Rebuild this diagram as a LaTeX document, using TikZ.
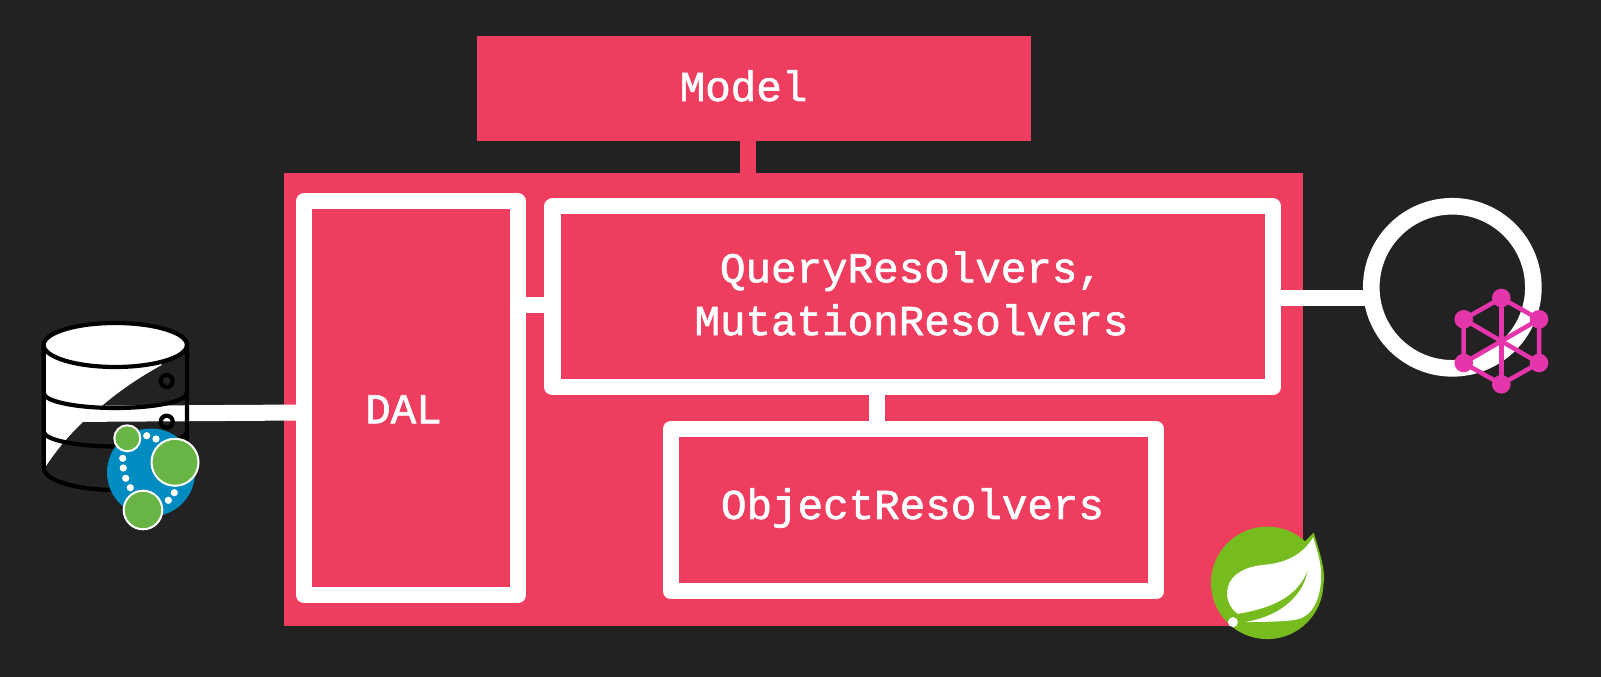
\documentclass[tikz,border=0pt]{standalone}
\usepackage{fontspec}
\usepackage{xcolor}
\usetikzlibrary{arrows.meta, positioning}
\newfontfamily\codefont[FakeBold=1.5]{Liberation Mono}
\definecolor{bgdark}{HTML}{222222}
\definecolor{apppink}{HTML}{EF3D5F}
\definecolor{neoblue}{HTML}{008CC1}
\definecolor{neogreen}{HTML}{68B545}
\definecolor{gqlpink}{HTML}{E535AB}
\definecolor{springgreen}{HTML}{77BC1F}

\begin{document}
\begin{tikzpicture}[x=0.01cm, y=-0.01cm,
    solidbox/.style={rectangle, fill=apppink, outer sep=0pt, inner sep=0pt},
    framebox/.style={rectangle, fill=apppink, draw=white, line width=1.6mm, line join=round, outer sep=0pt, inner sep=0pt},
    link/.style={draw=white, line width=1.6mm},
    boxtext/.style={text=white, font=\codefont\fontsize{12.1pt}{15pt}\selectfont, inner sep=0pt, align=center},
    dbline/.style={draw=black, line width=0.42mm}]
  \useasboundingbox (0,0) rectangle (1601,677);
  \fill[bgdark] (0,0) rectangle (1601,677);
  % ---------- BOXES ----------
  \node[solidbox, minimum width=5.546cm, minimum height=1.05cm] (model) at (754,88.8) {};
  \node[solidbox, minimum width=10.178cm, minimum height=4.53cm] (app) at (793.4,399.2) {};
  \node[framebox, minimum width=2.132cm, minimum height=3.94cm] (dal) at (411.1,398.3) {};
  \node[framebox, minimum width=7.2cm, minimum height=1.81cm] (query) at (912.7,296.8) {};
  \node[framebox, minimum width=4.856cm, minimum height=1.62cm] (objres) at (913.5,510.3) {};
  \node[circle, draw=white, line width=1.66mm, minimum size=1.62cm, outer sep=0pt, inner sep=0pt] (graphql) at (1452.3,287.3) {};
  % ---------- LABELS ----------
  \node[boxtext, anchor=base] (modeltext) at (743.5,101) {Model};
  \node[boxtext, anchor=center] (querytext) at (911.5,293.5) {QueryResolvers,\\MutationResolvers};
  \node[boxtext, anchor=base] (daltext) at (403.5,423.3) {DAL};
  \node[boxtext, anchor=base] (objtext) at (912.5,519) {ObjectResolvers};
  % ---------- CONNECTORS ----------
  \coordinate (modellink) at (747.5,0);
  \coordinate (objlink) at (877.3,0);
  \coordinate (dallink) at (0,305.3);
  \coordinate (gqllink) at (0,298.2);
  \coordinate (dbport) at (83.3,413.9);
  \coordinate (dbend) at (0,412.5);
  \draw[link, draw=apppink] (modellink |- model.south) -- (modellink |- app.north);
  \draw[link] (dal.east |- dallink) -- (query.west |- dallink);
  \draw[link] (objlink |- query.south) -- (objlink |- objres.north);
  \draw[link] (query.east |- gqllink) -- (graphql.west |- gqllink);
  % ---------- DATABASE ----------
  \begin{scope}
    \clip (43.7,345) -- (43.7,468) arc[start angle=180, end angle=0, x radius=71.65, y radius=22] -- (187,345) arc[start angle=0, end angle=180, x radius=71.65, y radius=22] -- cycle;
    \fill[white] (40,320) -- (163,320) -- (161.7,365) .. controls (138,378) and (118,392) .. (101.7,406) -- (83.3,421.7) .. controls (68,436) and (55,452) .. (44,469) -- (40,469) -- cycle;
  \end{scope}
  \draw[link] (dbport) -- (dal.west |- dbend);
  \fill[white] (115.3,345) ellipse [x radius=71.65, y radius=22];
  \draw[dbline] (115.3,345) ellipse [x radius=71.65, y radius=22];
  \draw[dbline] (43.7,345) -- (43.7,468) arc[start angle=180, end angle=0, x radius=71.65, y radius=22] -- (187,345);
  \draw[dbline] (43.7,393) arc[start angle=180, end angle=0, x radius=71.65, y radius=15];
  \draw[dbline] (43.7,431.5) arc[start angle=180, end angle=0, x radius=71.65, y radius=15];
  \draw[dbline] (166.7,381) circle (6);
  \draw[dbline] (166.7,421.7) circle (6);
  % ---------- NEO4J ----------
  \fill[neoblue] (151,472.5) circle (44);
  \draw[fill=neogreen, draw=white, line width=0.2mm] (127.3,438.3) circle (13);
  \draw[fill=neogreen, draw=white, line width=0.2mm] (175,462.3) circle (23.5);
  \draw[fill=neogreen, draw=white, line width=0.2mm] (143,510) circle (19.3);
  \foreach \px/\py in {146.7/435.7, 156/439, 122.7/458.3, 123.3/468, 125.7/478.3, 130.3/487.7, 174.3/492.7, 168.3/500.3}
    \fill[white] (\px,\py) circle (3.6);
  % ---------- GRAPHQL ----------
  \coordinate (G1) at (1501.3,298);
  \coordinate (G2) at (1539,319.3);
  \coordinate (G3) at (1539,363);
  \coordinate (G4) at (1501.3,384.3);
  \coordinate (G5) at (1463.7,363);
  \coordinate (G6) at (1463.7,319.3);
  \draw[gqlpink, line width=0.45mm] (G1)--(G2)--(G3)--(G4)--(G5)--(G6)--cycle;
  \draw[gqlpink, line width=0.45mm] (G1)--(G4);
  \draw[gqlpink, line width=0.45mm] (G2)--(G5);
  \draw[gqlpink, line width=0.45mm] (G3)--(G6);
  \foreach \p in {G1,G2,G3,G4,G5,G6} \fill[gqlpink] (\p) circle (9.3);
  % ---------- SPRING ----------
  \begin{scope}[shift={(1190,510)}, x=0.003333cm, y=-0.003333cm]
    \fill[springgreen] (232,219) circle (169);
    \fill[springgreen] (340,100) -- (372,68) .. controls (385,115) and (404,165) .. (403,210) -- (385,290) -- (300,200) -- cycle;
    \fill[white] (370,82) .. controls (383,125) and (396,165) .. (394,205)
      .. controls (392,260) and (372,316) .. (325,328)
      .. controls (280,338) and (215,335) .. (165,337)
      .. controls (255,322) and (338,272) .. (355,178)
      .. controls (328,250) and (265,292) .. (143,312)
      .. controls (120,295) and (106,265) .. (113,235)
      .. controls (123,190) and (170,170) .. (220,165)
      .. controls (280,160) and (335,140) .. (370,82) -- cycle;
    \fill[white] (129,337) circle (15);
  \end{scope}
\end{tikzpicture}
\end{document}
